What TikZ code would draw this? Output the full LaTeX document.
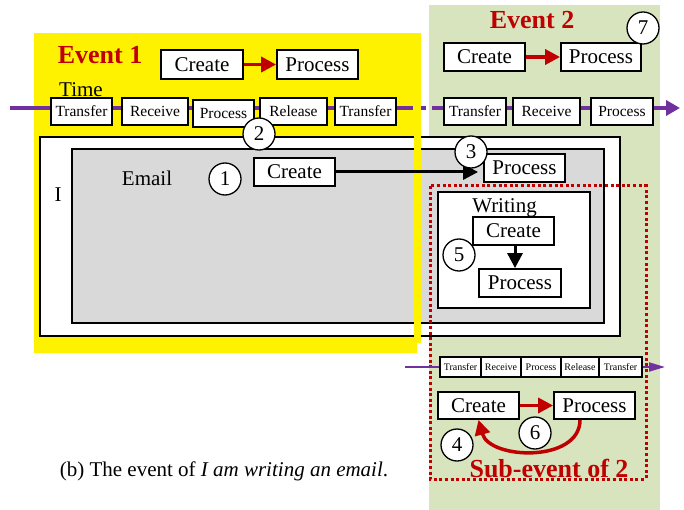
\documentclass[tikz,border=0pt]{standalone}
\usepackage{fontspec}
\setmainfont{Liberation Serif}
\usetikzlibrary{arrows.meta}
\definecolor{evred}{HTML}{C00000}
\definecolor{tlpurple}{HTML}{7030A0}
\definecolor{evgreen}{HTML}{D7E4BD}
\definecolor{emgray}{HTML}{D9D9D9}

\begin{document}
\begin{tikzpicture}[x=1pt,y=-1pt,
  box/.style={draw, line width=1.8pt, fill=white, inner sep=0pt, minimum width=81pt, minimum height=28pt, font=\fontsize{21}{24}\selectfont},
  tbox/.style={draw, line width=1.6pt, fill=white, inner sep=0pt, minimum height=27pt, font=\fontsize{15.5}{18}\selectfont},
  sbox/.style={draw, line width=1.2pt, fill=white, inner sep=0pt, minimum height=20pt, font=\fontsize{10}{12}\selectfont},
  num/.style={circle, draw, line width=1.3pt, fill=white, inner sep=0pt, minimum size=32pt, font=\fontsize{21}{24}\selectfont},
  lbl/.style={anchor=base, inner sep=0pt, font=\fontsize{21}{24}\selectfont},
  evlbl/.style={anchor=base, inner sep=0pt, text=evred, font=\fontsize{26}{30}\selectfont\bfseries},
  redarr/.style={evred, line width=3.5pt, -{Triangle[length=15pt,width=15pt]}},
  blkarr/.style={black, line width=3pt, -{Triangle[length=15pt,width=15pt]}},
  tline/.style={tlpurple, line width=3.5pt}]
\useasboundingbox (0,0) rectangle (684,510);

% backgrounds
\fill[evgreen] (429,5) rectangle (660,510);
\fill[yellow] (34,33) rectangle (417,353);
\draw[fill=white, line width=2pt] (40,137) rectangle (620,336);
\draw[fill=emgray, line width=2pt] (72,149) rectangle (604,323);
\fill[yellow] (414,33) rectangle (421,343);
\draw[fill=white, line width=2pt] (438,192) rectangle (590,308);
\draw[evred, line width=3pt, dash pattern=on 3pt off 2.6pt] (430,186) rectangle (646,479);

% time lines
\coordinate (tl1start) at (10,108);
\coordinate (tl1end) at (680,108);
\coordinate (tl3start) at (405,367);
\coordinate (tl3end) at (665,367);
\draw[tline, dash pattern=on 403pt off 8pt on 5pt off 6pt on 400pt, -{Triangle[length=14pt,width=15pt]}] (tl1start) -- (tl1end);
\draw[tlpurple, line width=2pt, -{Triangle[length=16pt,width=9pt]}] (tl3start) -- (tl3end);

\node[tbox, minimum width=61pt] (tr1) at (81.5,111.5) {Transfer};
\node[tbox, minimum width=66pt] (rc1) at (155,111.5) {Receive};
\node[tbox, minimum width=61pt] (pr1) at (223.5,113.5) {Process};
\node[tbox, minimum width=67pt] (rl1) at (293.5,111.5) {Release};
\node[tbox, minimum width=61pt] (tr2) at (365.5,111.5) {Transfer};
\node[tbox, minimum width=62pt] (tr3) at (475,111.5) {Transfer};
\node[tbox, minimum width=67pt] (rc3) at (546.5,111.5) {Receive};
\node[tbox, minimum width=62pt] (pr3) at (622,111.5) {Process};

\node[sbox, minimum width=41pt] (str1) at (460.5,367) {Transfer};
\node[sbox, minimum width=40pt] (src1) at (501,367) {Receive};
\node[sbox, minimum width=40pt] (spr1) at (541,367) {Process};
\node[sbox, minimum width=38pt] (srl1) at (580,367) {Release};
\node[sbox, minimum width=43pt] (str2) at (620.5,367) {Transfer};

% labels
\node[evlbl] (ev1) at (100,64) {Event 1};
\node[evlbl] (ev2) at (532,29) {Event 2};
\node[evlbl] (sub2) at (549,477) {Sub-event of 2};
\node[lbl] (time) at (81,97) {Time};
\node[lbl] (me) at (58,202) {I};
\node[lbl] (email) at (147,186) {Email};
\node[lbl] (writing) at (504.5,213) {Writing};
\node[lbl] (caption) at (224,476) {(b) The event of \textit{I am writing an email}.};

% events
\node[box, minimum width=82pt, minimum height=29pt] (cre1) at (202,64.5) {Create};
\node[box, minimum height=29pt] (pro1) at (317.5,64.5) {Process};
\node[box] (cre2) at (484.5,57) {Create};
\node[box, minimum width=80pt] (pro2) at (601,57) {Process};
\node[box] (creE) at (294.5,172) {Create};
\node[box] (proE) at (524.5,168) {Process};
\node[box] (creW) at (513.5,231) {Create};
\node[box, minimum width=82pt] (proW) at (520,283) {Process};
\node[box, minimum height=27pt] (creS) at (478.5,405.5) {Create};
\node[box, minimum height=27pt] (proS) at (594.5,405.5) {Process};

\draw[redarr] (cre1) -- (pro1);
\draw[redarr] (cre2) -- (pro2);
\draw[redarr] (creS) -- (proS);
\draw[blkarr, shorten >=5pt] (creE.east) -- (creE.east -| proE.west);
\draw[blkarr] ([xshift=1.5pt]creW.south) -- ([xshift=1.5pt]creW.south |- proW.north);
\draw[redarr] ([xshift=-14.5pt]proS.south) .. controls +(0,43) and +(11,40) .. (creS.south);

% numbers
\node[num] (n1) at (225,179) {1};
\node[num] (n2) at (259,134) {2};
\node[num] (n3) at (471,152) {3};
\node[num] (n4) at (457,445) {4};
\node[num] (n5) at (459,255) {5};
\node[num] (n6) at (535,433) {6};
\node[num] (n7) at (643,28) {7};
\end{tikzpicture}
\end{document}
